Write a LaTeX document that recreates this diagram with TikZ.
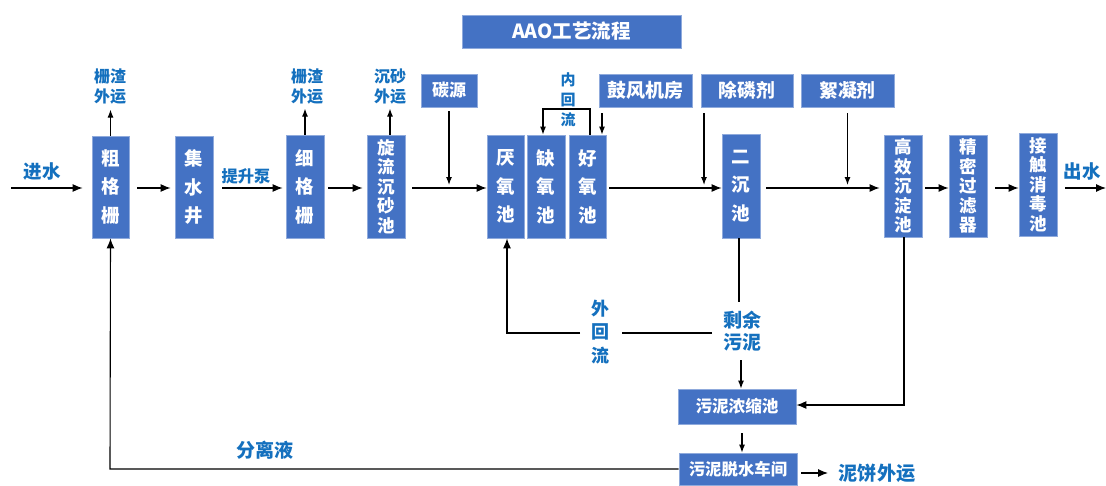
\documentclass[tikz,border=0pt]{standalone}
\usepackage{fontspec}
\newfontfamily\cjk{Noto Sans CJK SC}
\usetikzlibrary{arrows.meta,calc}
\definecolor{boxblue}{HTML}{4472C4}
\definecolor{boxedge}{HTML}{8FAADC}
\definecolor{lblue}{HTML}{1470BE}
\newcommand{\fs}[2]{\cjk\bfseries\fontsize{#1}{#2}\selectfont}
\tikzset{
  box/.style={draw=boxedge, line width=0.8pt, fill=boxblue, text=white, inner sep=0pt, align=center},
  vbox/.style={box, minimum width=38pt, minimum height=103pt, font=\fs{18.5}{28.5}},
  vboxfive/.style={box, minimum width=38pt, minimum height=103pt, font=\fs{17.5}{19.5}},
  hbox/.style={box, minimum height=33pt, font=\fs{18.7}{20}},
  lbl/.style={text=lblue, inner sep=0pt, align=center, font=\fs{19}{22}},
  slbl/.style={text=lblue, inner sep=0pt, align=center, font=\fs{16}{20}},
  arr/.style={-{Latex[length=10pt,width=8pt]}, line width=1.1pt},
  sarr/.style={-{Latex[length=8pt,width=6pt]}, line width=1.1pt},
  ln/.style={line width=1.1pt}
}
\begin{document}
\begin{tikzpicture}[x=1pt,y=-1pt]
\path[use as bounding box] (0,0) rectangle (1106,485);
% title
\node[hbox, minimum width=219pt, font=\fs{19.5}{20}] (title) at (571.5,31.5) {AAO工艺流程};
% main boxes
\node[vbox, minimum width=37pt, minimum height=102pt] (cgs) at (110.5,187) {粗\\格\\栅};
\node[vbox, minimum height=102pt] (jsj) at (194,187) {集\\水\\井};
\node[vbox] (xgs) at (305,186.5) {细\\格\\栅};
\node[vboxfive] (xl) at (386,186.5) {旋\\流\\沉\\砂\\池};
\node[vbox, minimum width=37pt] (ty) at (505.5,186.5) {厌\\氧\\池};
\node[vbox] (qy) at (546,186.5) {缺\\氧\\池};
\node[vbox, minimum width=37pt] (hy) at (587.5,186.5) {好\\氧\\池};
\node[vbox, minimum height=104pt] (ec) at (741,186) {二\\沉\\池};
\node[vboxfive, minimum height=102pt] (gx) at (903,186) {高\\效\\沉\\淀\\池};
\node[vboxfive, minimum height=102pt] (jm) at (968,186) {精\\密\\过\\滤\\器};
\node[vboxfive, minimum height=103pt] (jc) at (1038,184.5) {接\\触\\消\\毒\\池};
% top boxes
\node[hbox, minimum width=56pt, font=\fs{17}{20}] (ty0) at (449,90.5) {碳源};
\node[hbox, minimum width=93pt, font=\fs{19}{20}] (gf) at (645.5,90.5) {鼓风机房};
\node[hbox, minimum width=92pt] (cl) at (747,90.5) {除磷剂};
\node[hbox, minimum width=93pt] (xn) at (847.5,90.5) {絮凝剂};
% bottom boxes
\node[hbox, minimum width=118pt, minimum height=35pt, font=\fs{16.6}{20}] (nsc) at (737,406.5) {污泥浓缩池};
\node[hbox, minimum width=118pt, minimum height=32pt, font=\fs{16.4}{20}] (tsc) at (738,469) {污泥脱水车间};
% labels
\node[lbl, font=\fs{18.5}{22}] (jinshui) at (42,172) {进水};
\node[slbl, font=\fs{16.3}{20}] (tsb) at (246,176) {提升泵};
\node[slbl] (zz1) at (110,87) {栅渣\\外运};
\node[slbl] (zz2) at (307,87) {栅渣\\外运};
\node[slbl] (cs) at (390,87) {沉砂\\外运};
\node[slbl, font=\fs{15}{20}] (nhl) at (568,100) {内\\回\\流};
\node[lbl, font=\fs{18.5}{22}] (chushui) at (1082,171) {出水};
\node[lbl, font=\fs{18}{23.5}] (whl) at (600,332) {外\\回\\流};
\node[lbl, font=\fs{19}{22}] (sywn) at (742,331) {剩余\\污泥};
\node[lbl] (flj) at (265,450) {分离液};
\node[lbl, font=\fs{19.2}{22}] (nb) at (877,473) {泥饼外运};
% coordinates
\coordinate (in) at (11,188);
\coordinate (out) at (1106,188);
\coordinate (nhA) at (590,109);
\coordinate (nhB) at (543,109);
\coordinate (whA) at (712,333);
\coordinate (whB) at (622,333);
\coordinate (whC) at (580,333);
\coordinate (whD) at (507,333);
\coordinate (ecd) at (739,302);
\coordinate (gxc) at (904,405);
\coordinate (flc) at (110,469);
% main flow
\draw[arr, shorten >=9pt] (in) -- (cgs.west |- in);
\draw[arr, shorten <=8pt, shorten >=4pt] (cgs.east |- in) -- (jsj.west |- in);
\draw[arr, shorten <=9pt, shorten >=3pt] (jsj.east |- in) -- (xgs.west |- in);
\draw[arr, shorten <=4pt, shorten >=4pt] (xgs.east |- in) -- (xl.west |- in);
\draw[arr, shorten <=7pt] (xl.east |- in) -- (ty.west |- in);
\draw[arr, shorten <=3pt] (hy.east |- in) -- (ec.west |- in);
\draw[arr, shorten <=6pt, shorten >=4pt] (ec.east |- in) -- (gx.west |- in);
\draw[arr, shorten <=3pt] (gx.east |- in) -- (jm.west |- in);
\draw[arr, shorten <=8pt] (jm.east |- in) -- (jc.west |- in);
\draw[arr, shorten <=8pt] (jc.east |- in) -- (out);
% up arrows
\draw[sarr] (cgs.north) -- ++(0,-26);
\draw[sarr] (xgs.north) -- ++(0,-26);
\draw[sarr] (xl.north -| cs) -- ++(0,-26);
% dosing arrows
\draw[sarr, shorten <=4pt] (ty0.south) -- (ty0.south |- 0,185);
\draw[sarr, shorten <=6pt] (gf.south -| 602,0) -- (hy.north -| 602,0);
\draw[sarr, shorten <=6pt] (cl.south -| 704,0) -- (704,185);
\draw[sarr, shorten <=6pt] (xn.south) -- (xn.south |- 0,185);
% internal recycle
\draw[sarr] (hy.north -| nhA) -- (nhA) -- (nhB) -- (qy.north -| nhB);
% external recycle
\draw[ln] (ec.south -| ecd) -- (ecd);
\draw[ln] (whA) -- (whB);
\draw[arr] (whC) -- (whD) -- (ty.south -| whD);
% excess sludge
\draw[sarr] (741,360) -- (nsc.north -| 741,0);
\draw[arr] (gx.south -| gxc) -- (gxc) -- (nsc.east |- gxc);
\draw[sarr, shorten <=9pt] (nsc.south -| 742,0) -- (tsc.north -| 742,0);
\draw[arr] (tsc.west) -- (flc) -- (cgs.south);
\draw[arr, shorten <=4pt] (tsc.east |- nb) -- (828,473);
\end{tikzpicture}
\end{document}
